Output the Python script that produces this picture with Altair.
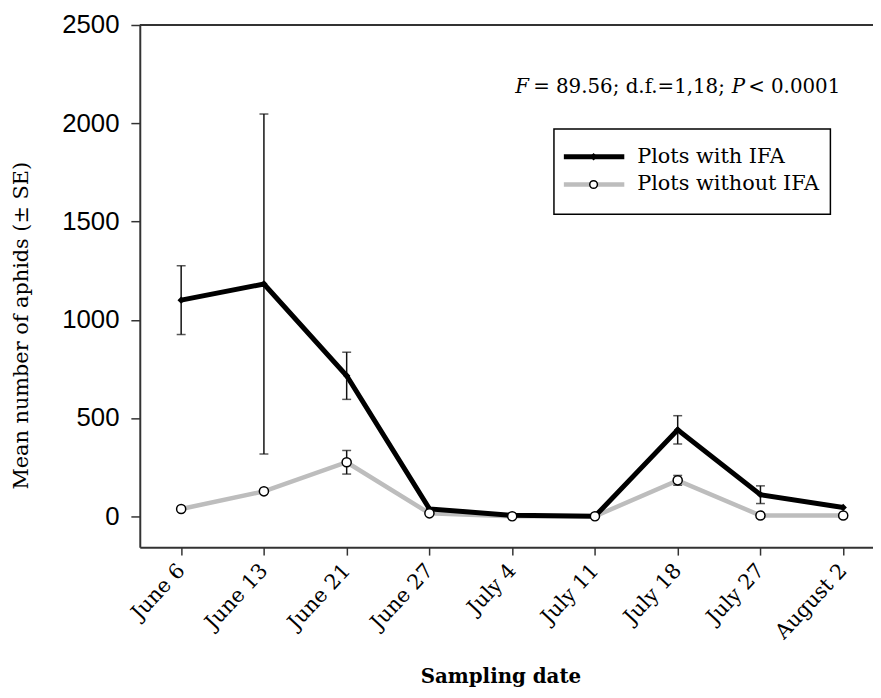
import altair as alt
import pandas as pd

# ---- data ----
dates = ["June 6", "June 13", "June 21", "June 27", "July 4", "July 11",
         "July 18", "July 27", "August 2"]
series = ["Plots with IFA", "Plots without IFA"]
with_ifa = [1100, 1182, 715, 38, 5, 0, 440, 110, 45]
with_ifa_se = [175, 865, 120, 0, 0, 0, 72, 45, 0]
without_ifa = [37, 127, 275, 15, 0, 0, 183, 4, 4]
without_ifa_se = [0, 0, 60, 0, 0, 0, 25, 0, 0]
y_ticks = [0, 500, 1000, 1500, 2000, 2500]
stat_parts = ["F", "= 89.56; d.f.=1,18;", "P", "< 0.0001"]

W, H = 740, 527
SERIF = "DejaVu Serif"
SANS = "Liberation Sans"

rows = []
for i, d in enumerate(dates):
    for s, vals, ses in [(series[0], with_ifa, with_ifa_se),
                         (series[1], without_ifa, without_ifa_se)]:
        rows.append({"idx": i, "date": d, "series": s, "mean": vals[i],
                     "se": ses[i], "lo": vals[i] - ses[i], "hi": vals[i] + ses[i]})
df = pd.DataFrame(rows)

label_expr = "[" + ",".join("'" + d + "'" for d in dates) + "][datum.value]"

x_enc = alt.X("idx:Q",
              scale=alt.Scale(domain=[-0.5, 8.36], nice=False, zero=False),
              axis=alt.Axis(values=list(range(len(dates))), labelExpr=label_expr,
                            title="Sampling date", labelAngle=-47,
                            labelAlign="right", labelBaseline="middle",
                            labelFont=SERIF, labelFontSize=21, labelPadding=12,
                            tickSize=8, titleFont=SERIF, titleFontSize=20,
                            titleFontWeight="bold", titleX=364, titleY=137,
                            titleBaseline="alphabetic", titleAlign="center"))
y_scale = alt.Scale(domain=[-157, 2500], nice=False, zero=False)
y_axis = alt.Axis(values=y_ticks, format="d",
                  title="Mean number of aphids (\u00b1 SE)",
                  labelFont=SANS, labelFontSize=26, labelPadding=12, tickSize=9,
                  titleFont=SERIF, titleFontSize=21, titleFontWeight="normal",
                  titleX=-119, titleY=303, titleBaseline="middle",
                  titleAlign="center", titleAngle=-90)

base = alt.Chart(df)

grey_line = base.transform_filter(alt.datum.series == series[1]).mark_line(
    color="#bdbdbd", strokeWidth=4.5).encode(
    x=x_enc, y=alt.Y("mean:Q", scale=y_scale, axis=y_axis))
black_line = base.transform_filter(alt.datum.series == series[0]).mark_line(
    color="black", strokeWidth=5).encode(x="idx:Q", y="mean:Q")

err = base.transform_filter(alt.datum.se > 0)
err_rule = err.mark_rule(color="#111", strokeWidth=1.5).encode(
    x="idx:Q", y="lo:Q", y2="hi:Q")
cap_hi = err.mark_tick(orient="horizontal", size=9, thickness=1.5,
                       color="#111").encode(x="idx:Q", y="hi:Q")
cap_lo = err.mark_tick(orient="horizontal", size=9, thickness=1.5,
                       color="#111").encode(x="idx:Q", y="lo:Q")

black_pts = base.transform_filter(alt.datum.series == series[0]).mark_point(
    shape="diamond", filled=True, color="black", size=55, opacity=1).encode(
    x="idx:Q", y="mean:Q")
grey_pts = base.transform_filter(alt.datum.series == series[1]).mark_point(
    shape="circle", filled=True, fill="white", stroke="black", strokeWidth=1.5,
    size=85, opacity=1).encode(x="idx:Q", y="mean:Q")

one = alt.Chart(pd.DataFrame({"k": [0]}))
top_border = one.mark_rule(color="#333", strokeWidth=2).encode(
    x=alt.value(0), x2=alt.value(W), y=alt.value(0))

# stats annotation
stat_x = [379, 397, 611, 707]
stat_style = ["italic", "normal", "italic", "normal"]
stat_align = ["left", "left", "right", "right"]
stat_layers = []
for t, xx, st, al in zip(stat_parts, stat_x, stat_style, stat_align):
    stat_layers.append(one.mark_text(text=t, font=SERIF, fontSize=20,
                                     fontStyle=st, align=al,
                                     baseline="middle", color="black").encode(
        x=alt.value(xx), y=alt.value(63)))

# legend (drawn)
leg_box = one.mark_rect(fill="white", stroke="black", strokeWidth=1.5).encode(
    x=alt.value(418), x2=alt.value(697), y=alt.value(105), y2=alt.value(191))
leg_df = pd.DataFrame({"series": series, "ypos": [133, 161]})
leg = alt.Chart(leg_df)
leg_l1 = leg.transform_filter(alt.datum.series == series[0]).mark_rule(
    color="black", strokeWidth=5).encode(
    x=alt.value(428), x2=alt.value(489), y=alt.value(133))
leg_l2 = leg.transform_filter(alt.datum.series == series[1]).mark_rule(
    color="#bdbdbd", strokeWidth=4.5).encode(
    x=alt.value(428), x2=alt.value(489), y=alt.value(161))
leg_p1 = leg.transform_filter(alt.datum.series == series[0]).mark_point(
    shape="diamond", filled=True, color="black", size=55, opacity=1).encode(
    x=alt.value(458), y=alt.value(133))
leg_p2 = leg.transform_filter(alt.datum.series == series[1]).mark_point(
    shape="circle", filled=True, fill="white", stroke="black", strokeWidth=1.5,
    size=60, opacity=1).encode(x=alt.value(458), y=alt.value(161))
leg_txt = leg.mark_text(font=SERIF, fontSize=21, align="left",
                        baseline="middle", color="black").encode(
    x=alt.value(502), y=alt.Y("ypos:Q", scale=None), text="series:N")

chart = alt.layer(
    grey_line, black_line, err_rule, cap_hi, cap_lo, black_pts, grey_pts,
    top_border, *stat_layers, leg_box, leg_l1, leg_l2, leg_p1, leg_p2, leg_txt
).properties(
    width=W, height=H,
    autosize=alt.AutoSizeParams(type="none"),
    padding={"left": 133, "top": 14, "right": 0, "bottom": 141},
).configure_view(stroke=None).configure_axis(
    domainColor="#333", domainWidth=2, tickColor="#333", tickWidth=1.5,
    grid=False, labelColor="black", titleColor="black")

chart.save("out.html", embed_options={"renderer": "svg", "actions": False})
